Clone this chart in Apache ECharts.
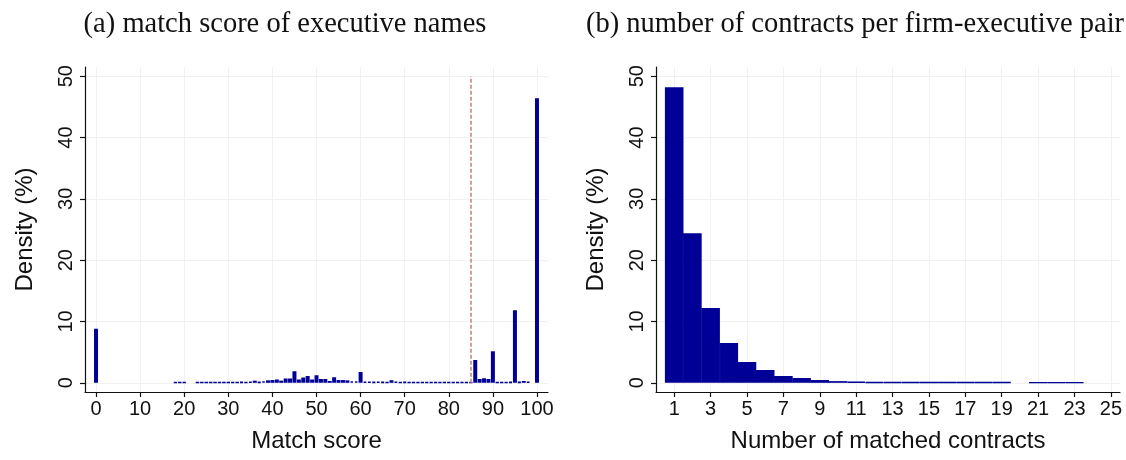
<!DOCTYPE html>
<html>
<head>
<meta charset="utf-8">
<script src="https://cdn.jsdelivr.net/npm/echarts@6/dist/echarts.min.js"></script>
<style>html,body{margin:0;padding:0;background:#fff;}#c{width:1126px;height:460px;}</style>
</head>
<body>
<div id="c"></div>
<script>
// Panel (a): match score histogram (density in %)
const scoreBins = [0, 18, 19, 20,
  23, 24, 25, 26, 27, 28, 29, 30, 31, 32, 33, 34, 35, 36, 37, 38, 39, 40,
  41, 42, 43, 44, 45, 46, 47, 48, 49, 50, 51, 52, 53, 54, 55, 56, 57, 58, 59, 60,
  61, 62, 63, 64, 65, 66, 67, 68, 69, 70, 71, 72, 73, 74, 75, 76, 77, 78, 79, 80,
  81, 82, 83, 84, 85, 86, 87, 88, 89, 90, 91, 92, 93, 94, 95, 96, 97, 98, 100];
const scoreDensity = [8.8, 0.1, 0.1, 0.1,
  0.08, 0.08, 0.08, 0.08, 0.08, 0.1, 0.08, 0.1, 0.12, 0.1, 0.15, 0.12, 0.2, 0.35, 0.15, 0.25, 0.4, 0.45,
  0.55, 0.35, 0.7, 0.7, 1.9, 0.55, 0.85, 1.1, 0.55, 1.25, 0.6, 0.6, 0.3, 0.9, 0.45, 0.45, 0.4, 0.25, 0.25, 1.75,
  0.2, 0.2, 0.15, 0.2, 0.15, 0.12, 0.42, 0.2, 0.12, 0.15, 0.12, 0.1, 0.12, 0.1, 0.12, 0.12, 0.1, 0.12, 0.12, 0.12,
  0.12, 0.12, 0.12, 0.12, 0.12, 3.7, 0.6, 0.75, 0.6, 5.15, 0.1, 0.1, 0.12, 0.15, 11.85, 0.15, 0.3, 0.2, 46.4];
const matchThreshold = 85;

// Panel (b): number of contracts per firm-executive pair
const contractBins = [1, 2, 3, 4, 5, 6, 7, 8, 9, 10, 11, 12, 13, 14, 15, 16, 17, 18, 19, 21, 22, 23];
const contractDensity = [48.2, 24.4, 12.2, 6.5, 3.4, 2.1, 1.1, 0.8, 0.45, 0.27, 0.17, 0.12, 0.1, 0.1,
  0.08, 0.08, 0.08, 0.08, 0.08, 0.07, 0.07, 0.07];

// Tick labels
const scoreTicks = [0, 10, 20, 30, 40, 50, 60, 70, 80, 90, 100];
const contractTicks = [1, 3, 5, 7, 9, 11, 13, 15, 17, 19, 21, 23, 25];
const densityTicks = [0, 10, 20, 30, 40, 50];

const titles = ['(a) match score of executive names', '(b) number of contracts per firm-executive pair'];

const barColor = '#000096';
const sans = 'Liberation Sans, Arial, sans-serif';
const serif = 'Liberation Serif, Times New Roman, serif';

function xAxisCfg(gridIndex, min, max, ticks, name) {
  return {
    type: 'value', gridIndex, min, max, name,
    nameLocation: 'middle', nameGap: 37,
    nameTextStyle: {fontFamily: sans, fontSize: 24, color: '#111'},
    axisLine: {show: true, onZero: false, lineStyle: {color: '#111', width: 1.2}},
    axisTick: {show: true, length: 5, customValues: ticks, lineStyle: {color: '#111', width: 1.2}},
    axisLabel: {customValues: ticks, fontFamily: sans, fontSize: 20, color: '#111', margin: 7},
    splitLine: {show: true, lineStyle: {color: '#f1f1f1', width: 1}}
  };
}
function yAxisCfg(gridIndex) {
  return {
    type: 'value', gridIndex, min: -1.5, max: 51.5, name: 'Density (%)',
    nameLocation: 'middle', nameGap: 48,
    nameTextStyle: {fontFamily: sans, fontSize: 24, color: '#111'},
    axisLine: {show: true, onZero: false, lineStyle: {color: '#111', width: 1.2}},
    axisTick: {show: true, length: 5, customValues: densityTicks, lineStyle: {color: '#111', width: 1.2}},
    axisLabel: {customValues: densityTicks, rotate: 90, fontFamily: sans, fontSize: 20, color: '#111', margin: 9},
    splitLine: {show: true, lineStyle: {color: '#f1f1f1', width: 1}}
  };
}

const chart = echarts.init(document.getElementById('c'), null, {renderer: 'canvas'});
chart.setOption({
  animation: false,
  backgroundColor: '#fff',
  title: [
    {text: titles[0], left: 280, top: 5, textAlign: 'center',
     textStyle: {fontFamily: serif, fontWeight: 'normal', fontSize: 28.5, color: '#111'}},
    {text: titles[1], left: 850, top: 5, textAlign: 'center',
     textStyle: {fontFamily: serif, fontWeight: 'normal', fontSize: 28.5, color: '#111'}}
  ],
  grid: [
    {left: 85, top: 67, width: 463, height: 325},
    {left: 656, top: 67, width: 464, height: 325}
  ],
  xAxis: [
    xAxisCfg(0, -2.5, 102.5, scoreTicks, 'Match score'),
    xAxisCfg(1, 0, 25.5, contractTicks, 'Number of matched contracts')
  ],
  yAxis: [yAxisCfg(0), yAxisCfg(1)],
  series: [
    {
      type: 'bar', xAxisIndex: 0, yAxisIndex: 0, barWidth: 4.0,
      data: scoreBins.map((s, i) => [s, scoreDensity[i]]),
      itemStyle: {color: barColor, borderColor: barColor, borderWidth: 1.6},
      markLine: {
        silent: true, symbol: 'none', label: {show: false},
        lineStyle: {color: '#c99595', type: [4, 2], width: 1.8, opacity: 1},
        data: [[{coord: [matchThreshold, 0]}, {coord: [matchThreshold, 50]}]]
      }
    },
    {
      type: 'bar', xAxisIndex: 1, yAxisIndex: 1, barWidth: 18.6,
      data: contractBins.map((s, i) => [s, contractDensity[i]]),
      itemStyle: {color: barColor, borderColor: barColor, borderWidth: 1.4}
    }
  ]
});
</script>
</body>
</html>
